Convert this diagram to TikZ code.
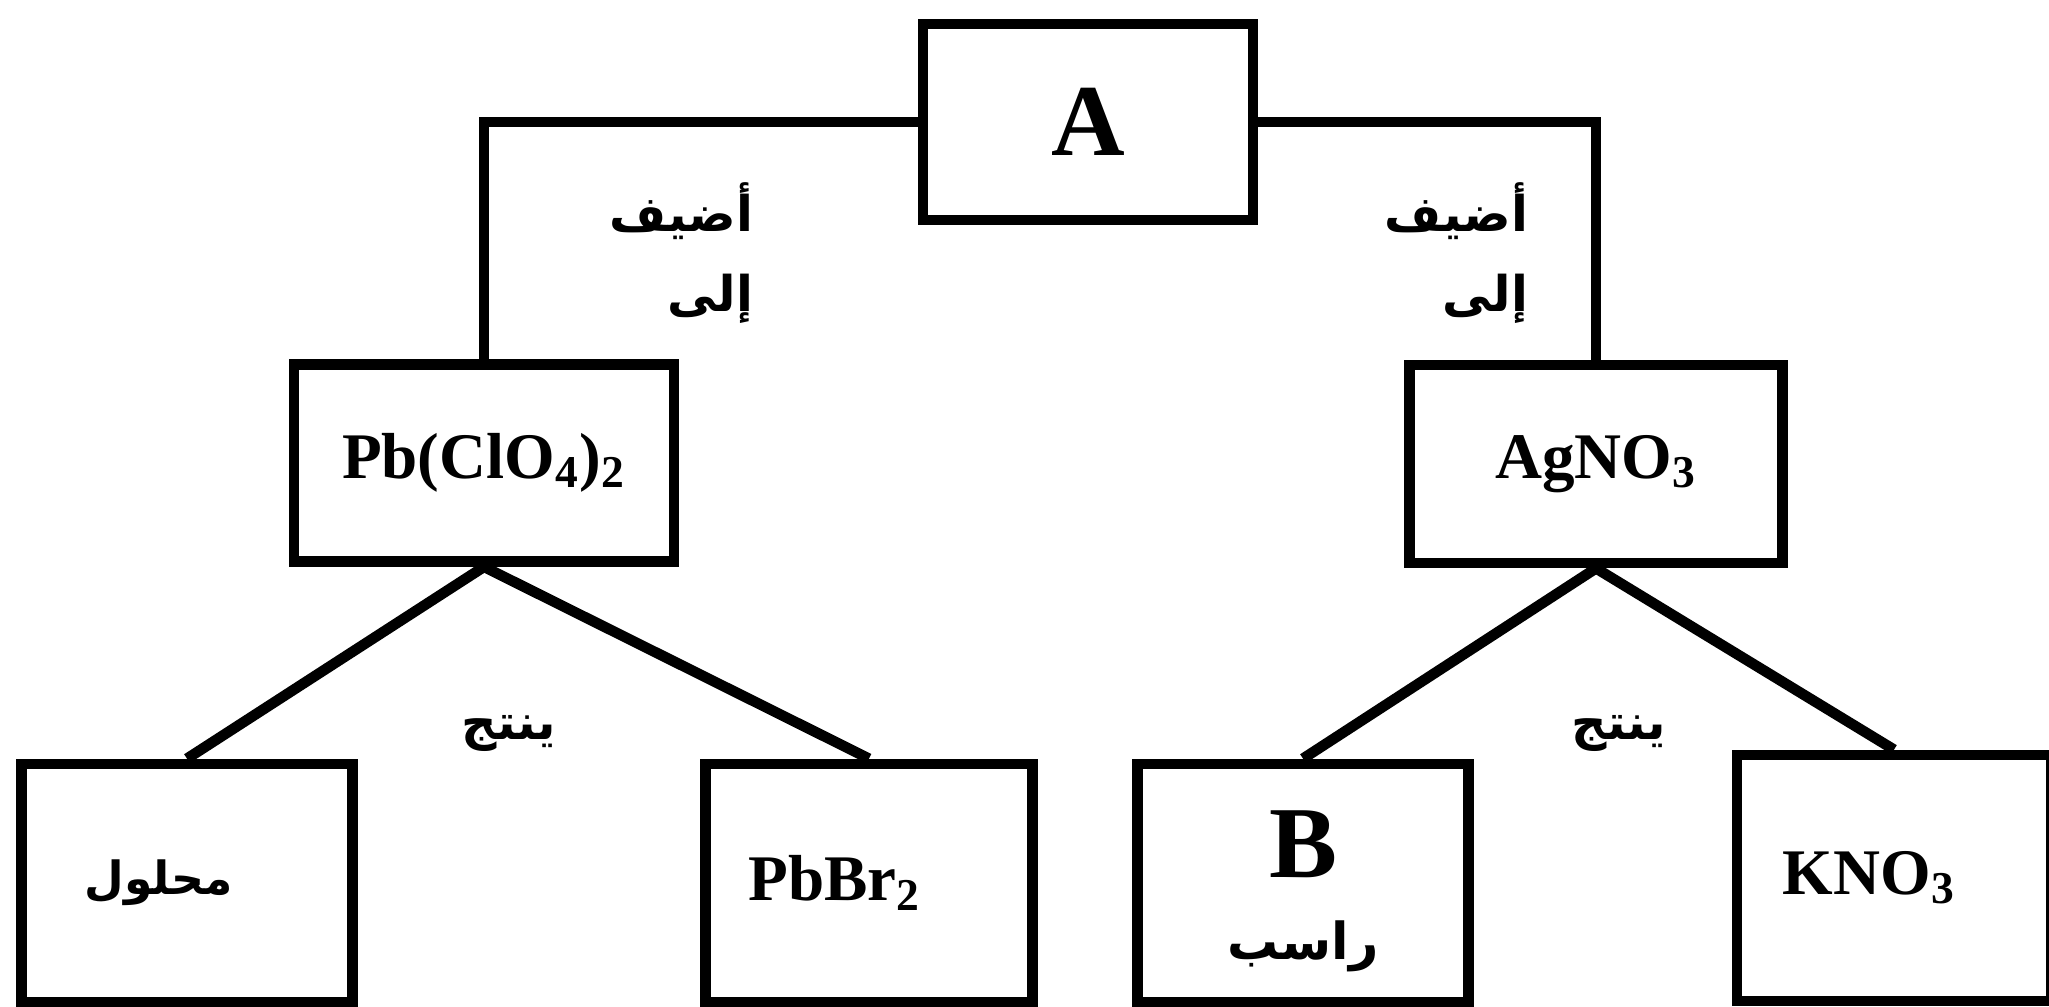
\documentclass[tikz,border=0pt]{standalone}
\usepackage{fontspec}
\setmainfont{Liberation Serif}
\newfontfamily\arabicfont[Script=Arabic]{DejaVu Sans}
\TeXXeTstate=1
\usepackage{tikz}
\usetikzlibrary{calc}

\begin{document}
\begin{tikzpicture}[x=0.01cm, y=-0.01cm, line width=3pt,
			box/.style={draw, rectangle, inner sep=0pt, minimum height=2.38cm},
			big/.style={font=\bfseries\fontsize{29}{34}\selectfont},
			chem/.style={font=\bfseries\fontsize{18.5}{22}\selectfont},
			ar/.style={font=\arabicfont\bfseries\fontsize{14}{22.8}\selectfont}]
			\useasboundingbox (0,0) rectangle (2049,1007);
			\node [box, big, minimum width=3.30cm, minimum height=1.96cm] (a) at (1088,122) {A};
			\node [box, chem, minimum width=3.80cm, minimum height=1.97cm] (pbclo) at (484,463) {Pb(ClO\textsubscript{4})\textsubscript{2}};
			\node [box, chem, minimum width=3.73cm, minimum height=1.98cm] (agno) at (1596,464) {AgNO\textsubscript{3}};
			\node [box, font=\arabicfont\bfseries\fontsize{13}{16}\selectfont, inner xsep=0.63cm, text width=2.05cm, align=left] (sol) at (187,883) {\beginR محلول\endR};
			\node [box, chem, inner xsep=0.43cm, text width=2.41cm, align=left] (pbbr) at (869,883) {PbBr\textsubscript{2}};
			\node [box, font=\bfseries\fontsize{29}{23.3}\selectfont, inner xsep=0.2cm, text width=2.91cm, text height=0.84cm, align=center] (b) at (1303,883) {B\\{\arabicfont\fontsize{14.5}{23.3}\selectfont\beginR راسب\endR}};
			\node [box, chem, inner xsep=0.46cm, text width=2.22cm, align=left, minimum height=2.46cm] (kno) at (1894,878) {KNO\textsubscript{3}};
			\node [ar, align=right, anchor=east] (addl) at (770,253) {\beginR أضيف\endR\\\beginR إلى\endR};
			\node [ar, align=right, anchor=east] (addr) at (1545,253) {\beginR أضيف\endR\\\beginR إلى\endR};
			\node [ar] (prodl) at (509,733) {\beginR ينتج\endR};
			\node [ar] (prodr) at (1619,733) {\beginR ينتج\endR};
			\draw (a.west) -| (pbclo.north);
			\draw (a.east) -| (agno.north);
			\draw (pbclo.south) -- (sol.north);
			\draw (pbclo.south) -- (pbbr.north);
			\draw (agno.south) -- (b.north);
			\draw (agno.south) -- (kno.north);
		\end{tikzpicture}
\end{document}
